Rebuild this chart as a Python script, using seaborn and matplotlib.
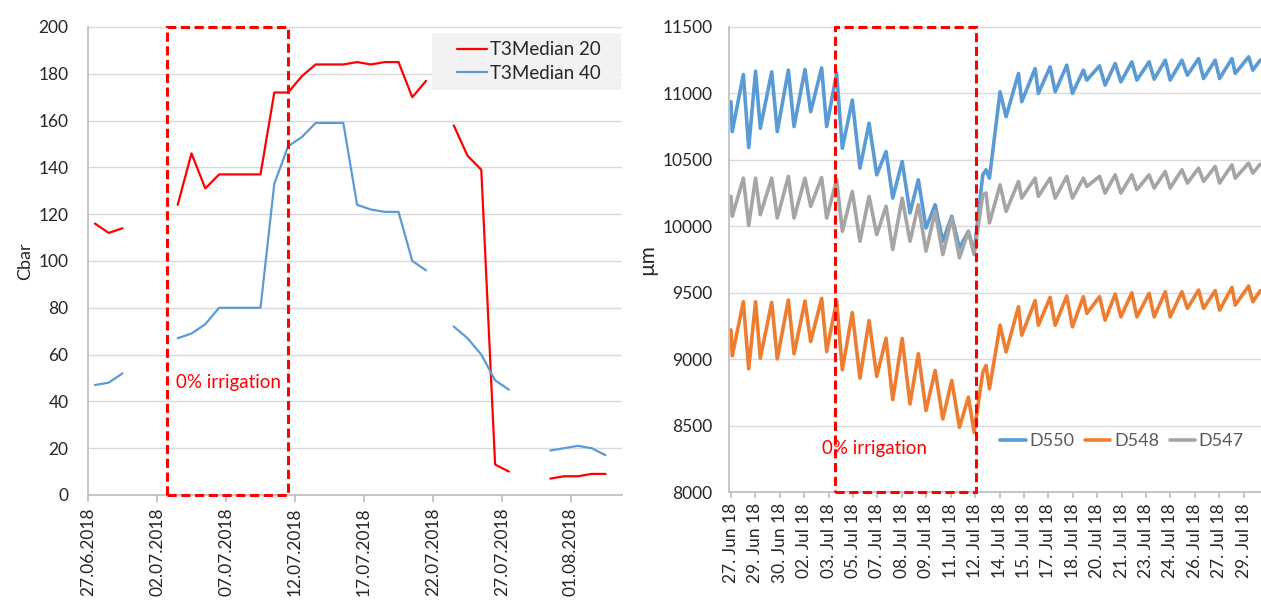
import numpy as np
import pandas as pd
import matplotlib
matplotlib.use("Agg")
import matplotlib.pyplot as plt
import matplotlib.dates as mdates
from matplotlib.patches import Rectangle
import seaborn as sns

# ---------------- data: left chart (soil water tension, Cbar) ----------------
start_date = "2018-06-27"
day_index = list(range(38))
t3_median_20 = [116, 112, 114, np.nan, np.nan, np.nan, 124, 146, 131, 137, 137, 137, 137,
                172, 172, 179, 184, 184, 184, 185, 184, 185, 185, 170, 177, np.nan,
                158, 145, 139, 13, 10, np.nan, np.nan, 7, 8, 8, 9, 9]
t3_median_40 = [47, 48, 52, np.nan, np.nan, np.nan, 67, 69, 73, 80, 80, 80, 80,
                133, 149, 153, 159, 159, 159, 124, 122, 121, 121, 100, 96, np.nan,
                72, 67, 60, 49, 45, np.nan, np.nan, 19, 20, 21, 20, 17]
left_series_names = ["T3Median 20", "T3Median 40"]
left_tick_labels = ["27.06.2018", "02.07.2018", "07.07.2018", "12.07.2018",
                    "17.07.2018", "22.07.2018", "27.07.2018", "01.08.2018"]
left_irrigation = (5.72, 14.49)   # days after start

# ---------------- data: right chart (dendrometers, µm) ----------------
t_days = [0.0, 0.08, 0.76, 1.09, 1.51, 1.80, 2.50, 2.84, 3.52, 3.87, 4.54, 4.89,
          5.56, 5.87, 6.48, 6.83, 7.44, 7.91, 8.47, 8.94, 9.51, 9.92, 10.50, 10.98,
          11.49, 11.96, 12.52, 12.99, 13.54, 14.01, 14.56, 14.91, 15.44, 15.64, 15.85,
          16.50, 16.87, 17.63, 17.83, 18.65, 18.85, 19.57, 19.88, 20.59, 20.94, 21.61,
          21.82, 22.60, 22.94, 23.56, 23.91, 24.58, 24.89, 25.64, 25.95, 26.63, 26.93,
          27.65, 27.99, 28.67, 28.98, 29.69, 29.96, 30.72, 30.92, 31.74, 32.00, 32.45]
d550 = [10937, 10712, 11142, 10592, 11167, 10737, 11162, 10712, 11175, 10750, 11180, 10862,
        11192, 10750, 11150, 10587, 10950, 10437, 10775, 10387, 10562, 10212, 10487, 10100,
        10350, 9987, 10162, 9887, 10075, 9837, 9962, 9800, 10387, 10425, 10362,
        11012, 10825, 11150, 10937, 11187, 11000, 11200, 11012, 11212, 11000, 11175,
        11100, 11207, 11062, 11225, 11087, 11237, 11100, 11237, 11107, 11250, 11100,
        11250, 11137, 11262, 11112, 11250, 11112, 11262, 11150, 11275, 11175, 11250]
d548 = [9220, 9025, 9432, 8927, 9432, 9007, 9427, 9002, 9445, 9040, 9437, 9132,
        9457, 9057, 9440, 8920, 9350, 8857, 9290, 8870, 9157, 8695, 9155, 8663,
        9041, 8613, 8915, 8550, 8840, 8487, 8714, 8449, 8900, 8953, 8777,
        9256, 9054, 9394, 9180, 9440, 9255, 9465, 9255, 9475, 9243, 9470,
        9344, 9470, 9293, 9490, 9318, 9500, 9318, 9495, 9318, 9507, 9318,
        9507, 9382, 9520, 9382, 9515, 9369, 9540, 9407, 9550, 9432, 9515]
d547 = [10225, 10075, 10362, 10007, 10362, 10087, 10362, 10062, 10375, 10062, 10362, 10150,
        10367, 10062, 10350, 9962, 10262, 9887, 10225, 9937, 10150, 9825, 10212, 9887,
        10162, 9812, 10112, 9787, 10062, 9762, 9962, 9787, 10237, 10250, 10025,
        10312, 10112, 10337, 10212, 10362, 10225, 10362, 10212, 10375, 10212, 10362,
        10300, 10375, 10250, 10387, 10250, 10387, 10275, 10387, 10287, 10412, 10287,
        10425, 10325, 10437, 10337, 10450, 10325, 10462, 10362, 10475, 10400, 10467]
right_series_names = ["D550", "D548", "D547"]
right_tick_step = 1.497
right_tick_labels = ["27. Jun 18", "29. Jun 18", "30. Jun 18", "02. Jul 18", "03. Jul 18",
                     "05. Jul 18", "07. Jul 18", "08. Jul 18", "09. Jul 18", "11. Jul 18",
                     "12. Jul 18", "14. Jul 18", "15. Jul 18", "17. Jul 18", "18. Jul 18",
                     "20. Jul 18", "21. Jul 18", "23. Jul 18", "24. Jul 18", "26. Jul 18",
                     "27. Jul 18", "29. Jul 18"]
right_irrigation = (6.38, 15.03)

# ---------------- style ----------------
sns.set_theme(style="white")
plt.rcParams["font.family"] = ["Lato", "DejaVu Sans"]

RED = "#FF0000"
BLUE = "#5B9BD5"
ORANGE = "#ED7D31"
GRAY = "#A5A5A5"
GRID = "#D9D9D9"
AXIS = "#BFBFBF"

fig = plt.figure(figsize=(12.61, 6.04), dpi=100)
ax1 = fig.add_axes([0.0698, 0.1805, 0.4235, 0.7748])
ax2 = fig.add_axes([0.5781, 0.1854, 0.4219, 0.7700])

# ---------------- left chart ----------------
base = pd.Timestamp(start_date)
rows = []
for name, vals in zip(left_series_names, [t3_median_20, t3_median_40]):
    seg = 0
    prev_nan = True
    for d, v in zip(day_index, vals):
        if np.isnan(v):
            prev_nan = True
            continue
        if prev_nan:
            seg += 1
            prev_nan = False
        rows.append({"date": base + pd.Timedelta(days=d, hours=12), "value": v,
                     "series": name, "seg": f"{name}-{seg}"})
left_df = pd.DataFrame(rows)

sns.lineplot(data=left_df, x="date", y="value", hue="series", units="seg",
             estimator=None, palette={left_series_names[0]: RED, left_series_names[1]: BLUE},
             linewidth=1.6, ax=ax1)

ax1.set_ylim(0, 200)
ax1.set_yticks(range(0, 201, 20))
ax1.set_xlim(base, base + pd.Timedelta(days=38.7))
left_ticks = [base + pd.Timedelta(days=5 * i) for i in range(len(left_tick_labels))]
ax1.set_xticks(left_ticks)
ax1.set_xticklabels(left_tick_labels, rotation=90)
ax1.yaxis.grid(True, color=GRID, linewidth=1)
ax1.xaxis.grid(False)
ax1.set_axisbelow(True)
for s in ["top", "right"]:
    ax1.spines[s].set_visible(False)
for s in ["left", "bottom"]:
    ax1.spines[s].set_color(AXIS)
ax1.tick_params(axis="x", bottom=True, length=5, color=AXIS, labelsize=12.5, pad=4)
ax1.tick_params(axis="y", left=False, labelsize=12.5, pad=8)
ax1.set_xlabel("")
ax1.set_ylabel("Cbar", fontsize=13, labelpad=4)

x0 = mdates.date2num(base + pd.Timedelta(days=left_irrigation[0]))
x1 = mdates.date2num(base + pd.Timedelta(days=left_irrigation[1]))
ax1.add_patch(Rectangle((x0, 0), x1 - x0, 200, fill=False, edgecolor=RED,
                        linestyle=(0, (3, 1.5)), linewidth=2.2, clip_on=False, zorder=5))
ax1.text(mdates.date2num(base + pd.Timedelta(days=10.15)), 48, "0% irrigation",
         color=RED, fontsize=13.5, ha="center", va="center")

# legend background panel (Excel style, wider horizontal padding)
ax1.add_patch(Rectangle((0.644, 0.865), 0.354, 0.122, transform=ax1.transAxes,
                        facecolor="#F2F2F2", edgecolor="none", zorder=3))
leg1 = ax1.legend(loc="center left", bbox_to_anchor=(0.69, 0.926), frameon=False,
                  fontsize=13.5, handlelength=1.6, borderpad=0.0, labelspacing=0.35,
                  handletextpad=0.2, borderaxespad=0.0)
leg1.set_zorder(6)
leg1.set_title(None)

# ---------------- right chart ----------------
right_df = pd.DataFrame({
    "t": t_days * 3,
    "value": d550 + d548 + d547,
    "sensor": [right_series_names[0]] * len(t_days) + [right_series_names[1]] * len(t_days)
              + [right_series_names[2]] * len(t_days),
})
sns.lineplot(data=right_df, x="t", y="value", hue="sensor", estimator=None,
             palette={right_series_names[0]: BLUE, right_series_names[1]: ORANGE,
                      right_series_names[2]: GRAY},
             linewidth=2.6, ax=ax2)
for ln in ax2.get_lines():
    ln.set_solid_joinstyle("round")

ax2.set_ylim(8000, 11500)
ax2.set_yticks(range(8000, 11501, 500))
ax2.set_xlim(-0.12, 32.5)
ax2.set_xticks([i * right_tick_step for i in range(len(right_tick_labels))])
ax2.set_xticklabels(right_tick_labels, rotation=90)
ax2.yaxis.grid(True, color=GRID, linewidth=1)
ax2.xaxis.grid(False)
ax2.set_axisbelow(True)
for s in ["top", "right"]:
    ax2.spines[s].set_visible(False)
for s in ["left", "bottom"]:
    ax2.spines[s].set_color(AXIS)
ax2.tick_params(axis="x", bottom=True, length=4, color=AXIS, labelsize=12.5, pad=4)
ax2.tick_params(axis="y", left=False, labelsize=12.5, pad=6)
ax2.set_xlabel("")
ax2.set_ylabel("µm", fontsize=15, labelpad=4)

ax2.add_patch(Rectangle((right_irrigation[0], 8000), right_irrigation[1] - right_irrigation[0],
                        3500, fill=False, edgecolor=RED, linestyle=(0, (3, 1.5)),
                        linewidth=2.2, clip_on=False, zorder=5))
ax2.text(8.83, 8331, "0% irrigation", color=RED, fontsize=13.5, ha="center", va="center")

leg2 = ax2.legend(loc="center left", bbox_to_anchor=(0.51, 0.11), frameon=False, ncol=3,
                  fontsize=13, handlelength=1.4, handletextpad=0.2, columnspacing=0.6,
                  borderaxespad=0.0, borderpad=0.0, labelcolor="#595959")
leg2.set_title(None)

fig.savefig("out.png", dpi=100)
